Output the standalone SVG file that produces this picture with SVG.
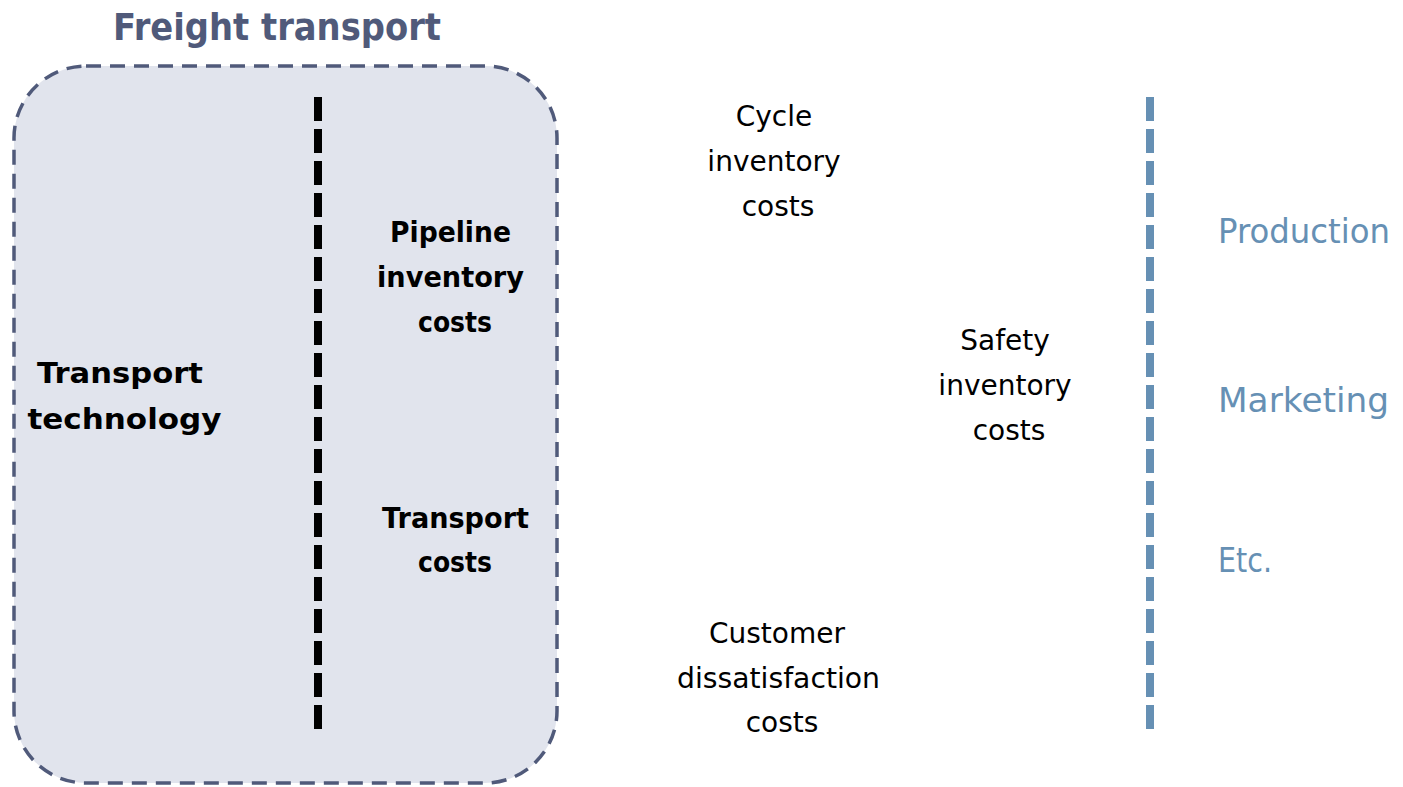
<svg xmlns="http://www.w3.org/2000/svg" width="1403" height="787" viewBox="0 0 1403 787">
  <style>
    .reg { font-family: "DejaVu Sans", "Liberation Sans", sans-serif; font-size: 28px; fill: #000; text-anchor: middle; }
    .bold { font-family: "DejaVu Sans", "Liberation Sans", sans-serif; font-size: 29px; font-weight: bold; fill: #000; text-anchor: middle; }
    .blue { font-family: "DejaVu Sans", "Liberation Sans", sans-serif; font-size: 34px; fill: #6690b4; }
    .title { font-family: "DejaVu Sans Condensed", "DejaVu Sans", sans-serif; font-size: 38px; font-weight: bold; fill: #505a7a; text-anchor: middle; }
  </style>
  <rect width="1403" height="787" fill="#ffffff"/>
  <g id="freight-box">
    <rect x="14" y="66" width="543" height="717" rx="72" ry="72" fill="#e1e4ed" stroke="#505a7a" stroke-width="3.5" stroke-dasharray="15 9"/>
    <text class="title" x="277" y="40" textLength="328" lengthAdjust="spacingAndGlyphs">Freight transport</text>
  </g>
  <g id="connectors">
    <line x1="318" y1="97" x2="318" y2="729" stroke="#000" stroke-width="8" stroke-dasharray="24 8"/>
    <line x1="1150" y1="97" x2="1150" y2="729" stroke="#6690b4" stroke-width="8" stroke-dasharray="24 8"/>
  </g>
  <g id="transport-technology">
    <text class="bold" x="120" y="383" font-size="32" textLength="166" lengthAdjust="spacingAndGlyphs">Transport</text>
    <text class="bold" x="124.5" y="429" font-size="32" textLength="194" lengthAdjust="spacingAndGlyphs">technology</text>
  </g>
  <g id="pipeline">
    <text class="bold" x="450.5" y="242" textLength="121" lengthAdjust="spacingAndGlyphs">Pipeline</text>
    <text class="bold" x="450.5" y="287" textLength="147" lengthAdjust="spacingAndGlyphs">inventory</text>
    <text class="bold" x="455" y="332" textLength="74" lengthAdjust="spacingAndGlyphs">costs</text>
  </g>
  <g id="transport-costs">
    <text class="bold" x="455.5" y="528" textLength="147" lengthAdjust="spacingAndGlyphs">Transport</text>
    <text class="bold" x="455" y="572" textLength="74" lengthAdjust="spacingAndGlyphs">costs</text>
  </g>
  <g id="cycle">
    <text class="reg" x="774" y="126">Cycle</text>
    <text class="reg" x="774" y="171">inventory</text>
    <text class="reg" x="778" y="216">costs</text>
  </g>
  <g id="safety">
    <text class="reg" x="1005" y="350">Safety</text>
    <text class="reg" x="1005" y="395">inventory</text>
    <text class="reg" x="1009" y="440">costs</text>
  </g>
  <g id="customer">
    <text class="reg" x="777" y="643">Customer</text>
    <text class="reg" x="778.5" y="688" textLength="203" lengthAdjust="spacingAndGlyphs">dissatisfaction</text>
    <text class="reg" x="782" y="732">costs</text>
  </g>
  <g id="production">
    <text class="blue" x="1218" y="243" textLength="172" lengthAdjust="spacingAndGlyphs">Production</text>
  </g>
  <g id="marketing">
    <text class="blue" x="1218" y="412" textLength="171" lengthAdjust="spacingAndGlyphs">Marketing</text>
  </g>
  <g id="etc">
    <text class="blue" x="1218" y="572" textLength="54" lengthAdjust="spacingAndGlyphs">Etc.</text>
  </g>
</svg>
